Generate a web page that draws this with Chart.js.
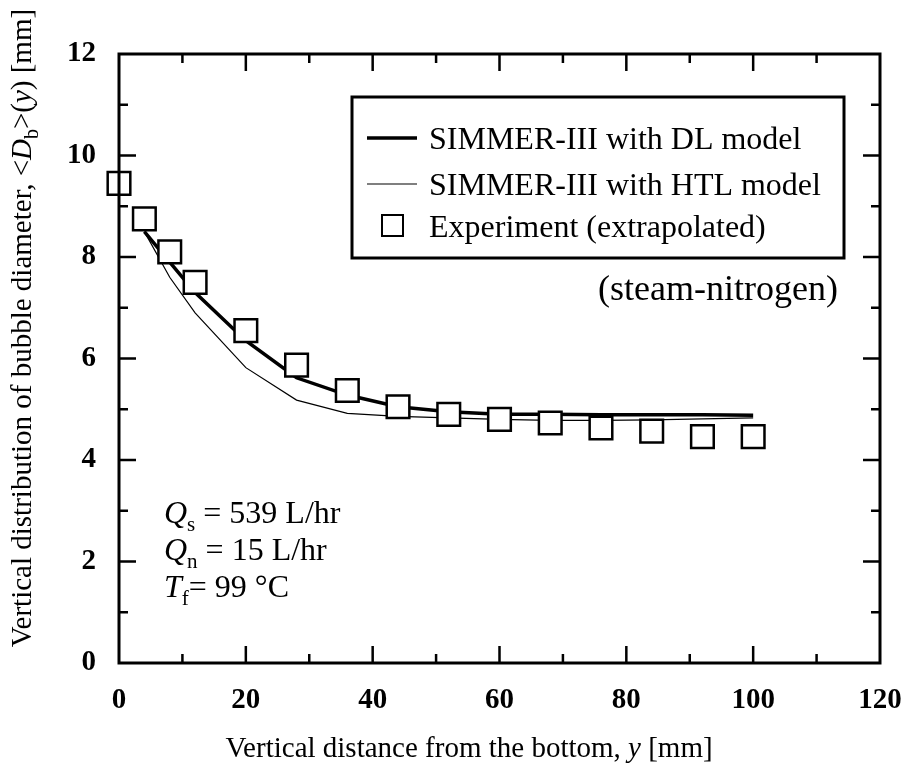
<!DOCTYPE html>
<html lang="en">
<head>
  <meta charset="UTF-8">
  <title>Vertical distribution of bubble diameter</title>
  <script src="https://cdn.jsdelivr.net/npm/chart.js"></script>
  <style>
    html, body { margin: 0; padding: 0; background: #fff; }
    #wrap { width: 910px; height: 772px; }
  </style>
</head>
<body>
  <div id="wrap"><canvas id="myChart" width="910" height="772"></canvas></div>

  <script>
    // experiment (extrapolated), squares
    const expY = [0, 4, 8, 12, 20, 28, 36, 44, 52, 60, 68, 76, 84, 92, 100];
    const expD = [9.45, 8.75, 8.1, 7.5, 6.55, 5.87, 5.37, 5.05, 4.9, 4.8, 4.73, 4.63, 4.57, 4.46, 4.46];

    // SIMMER-III results
    const simY = [4, 8, 12, 20, 28, 36, 44, 52, 60, 68, 76, 84, 92, 100];
    const dlD = [8.5, 7.9, 7.3, 6.35, 5.62, 5.28, 5.05, 4.95, 4.9, 4.9, 4.89, 4.89, 4.89, 4.88];
    const htlD = [8.5, 7.6, 6.9, 5.82, 5.18, 4.92, 4.86, 4.83, 4.8, 4.78, 4.78, 4.79, 4.81, 4.83];

    const xTicks = [0, 20, 40, 60, 80, 100, 120];
    const yTicks = [0, 2, 4, 6, 8, 10, 12];

    const legendLabels = ['SIMMER-III with DL model', 'SIMMER-III with HTL model', 'Experiment (extrapolated)'];

    const SERIF = '"Liberation Serif", "Times New Roman", serif';

    const pts = (xs, ys) => xs.map((x, i) => ({ x: x, y: ys[i] }));

    // draw a row of text pieces (font / vertical shift per piece)
    function richText(ctx, parts, x, y, align) {
      let total = 0;
      parts.forEach(p => { ctx.font = p.font; total += ctx.measureText(p.t).width; });
      let cx = align === 'center' ? x - total / 2 : x;
      parts.forEach(p => {
        ctx.font = p.font;
        ctx.fillText(p.t, cx, y + (p.dy || 0));
        cx += ctx.measureText(p.t).width;
      });
    }

    const decor = {
      id: 'decor',
      afterDatasetsDraw(chart) {
        const ctx = chart.ctx;
        const a = chart.chartArea;
        const sx = chart.scales.x, sy = chart.scales.y;
        ctx.save();
        ctx.strokeStyle = '#000';
        ctx.lineWidth = 3;
        ctx.strokeRect(a.left, a.top, a.right - a.left, a.bottom - a.top);

        // inward ticks on all four sides
        ctx.lineWidth = 2.5;
        ctx.beginPath();
        for (let v = 10; v < 120; v += 10) {
          const len = v % 20 === 0 ? 17 : 9;
          const px = sx.getPixelForValue(v);
          ctx.moveTo(px, a.bottom); ctx.lineTo(px, a.bottom - len);
          ctx.moveTo(px, a.top); ctx.lineTo(px, a.top + len);
        }
        for (let v = 1; v < 12; v++) {
          const len = v % 2 === 0 ? 17 : 9;
          const py = sy.getPixelForValue(v);
          ctx.moveTo(a.left, py); ctx.lineTo(a.left + len, py);
          ctx.moveTo(a.right, py); ctx.lineTo(a.right - len, py);
        }
        ctx.stroke();
        ctx.restore();
      },
      afterDraw(chart) {
        const ctx = chart.ctx;
        ctx.save();
        ctx.fillStyle = '#000';
        ctx.textBaseline = 'alphabetic';

        // legend box
        ctx.lineWidth = 3;
        ctx.strokeStyle = '#000';
        ctx.strokeRect(352, 97, 492, 161);
        ctx.beginPath();
        ctx.lineWidth = 3.5;
        ctx.moveTo(367, 138); ctx.lineTo(417, 138);
        ctx.stroke();
        ctx.beginPath();
        ctx.lineWidth = 1.2;
        ctx.moveTo(367, 184); ctx.lineTo(417, 184);
        ctx.stroke();
        ctx.lineWidth = 2;
        ctx.fillStyle = '#fff';
        ctx.fillRect(382, 215, 21, 21);
        ctx.strokeRect(382, 215, 21, 21);
        ctx.fillStyle = '#000';
        ctx.font = '32px ' + SERIF;
        ctx.textAlign = 'left';
        ctx.fillText(legendLabels[0], 429, 149);
        ctx.fillText(legendLabels[1], 429, 195);
        ctx.fillText(legendLabels[2], 429, 237);

        ctx.font = '36px ' + SERIF;
        ctx.textAlign = 'right';
        ctx.fillText('(steam-nitrogen)', 838, 300);

        // conditions
        ctx.textAlign = 'left';
        const it = 'italic 32px ' + SERIF, nm = '32px ' + SERIF, sub = '21px ' + SERIF;
        richText(ctx, [{ t: 'Q', font: it }, { t: 's', font: sub, dy: 8 }, { t: ' = 539 L/hr', font: nm }], 164, 523);
        richText(ctx, [{ t: 'Q', font: it }, { t: 'n', font: sub, dy: 8 }, { t: ' = 15 L/hr', font: nm }], 164, 560);
        richText(ctx, [{ t: 'T', font: it }, { t: 'f', font: sub, dy: 8 }, { t: '= 99 °C', font: nm }], 164, 597);

        // axis titles
        const tf = '29px ' + SERIF, ti = 'italic 29px ' + SERIF;
        richText(ctx, [{ t: 'Vertical distance from the bottom, ', font: tf }, { t: 'y', font: ti }, { t: ' [mm]', font: tf }], 469, 757, 'center');

        ctx.translate(31, 328);
        ctx.rotate(-Math.PI / 2);
        richText(ctx, [
          { t: 'Vertical distribution of bubble diameter, <', font: tf },
          { t: 'D', font: ti },
          { t: 'b', font: '20px ' + SERIF, dy: 7 },
          { t: '>(', font: tf },
          { t: 'y', font: ti },
          { t: ') [mm]', font: tf }
        ], 0, 0, 'center');
        ctx.restore();
      }
    };

    const data = {
      datasets: [
        {
          label: legendLabels[2],
          data: pts(expY, expD),
          showLine: false,
          clip: false,
          pointStyle: 'rect',
          pointRadius: 16,
          pointBackgroundColor: '#fff',
          pointBorderColor: '#000',
          pointBorderWidth: 2.5
        },
        {
          label: legendLabels[0],
          data: pts(simY, dlD),
          showLine: true,
          borderColor: '#000',
          borderWidth: 3.5,
          pointRadius: 0,
          tension: 0
        },
        {
          label: legendLabels[1],
          data: pts(simY, htlD),
          showLine: true,
          borderColor: '#000',
          borderWidth: 1.2,
          pointRadius: 0,
          tension: 0
        }
      ]
    };

    const options = {
      responsive: false,
      animation: false,
      layout: { padding: { top: 54, right: 30, left: 0, bottom: 0 } },
      scales: {
        x: {
          type: 'linear',
          min: 0,
          max: 120,
          afterBuildTicks: s => { s.ticks = xTicks.map(v => ({ value: v })); },
          afterFit: s => { s.height = 109; s.paddingLeft = 0; s.paddingRight = 0; },
          grid: { display: false, drawTicks: false },
          border: { display: false },
          ticks: { padding: 20, color: '#000', font: { family: SERIF, size: 29, weight: 'bold' }, maxRotation: 0 }
        },
        y: {
          min: 0,
          max: 12,
          afterBuildTicks: s => { s.ticks = yTicks.map(v => ({ value: v })); },
          afterFit: s => { s.width = 119; s.paddingTop = 0; s.paddingBottom = 0; },
          grid: { display: false, drawTicks: false },
          border: { display: false },
          ticks: { padding: 23, color: '#000', font: { family: SERIF, size: 29, weight: 'bold' } }
        }
      },
      plugins: {
        legend: { display: false },
        tooltip: { enabled: false }
      }
    };

    const ctx = document.getElementById('myChart').getContext('2d');
    const myChart = new Chart(ctx, {
      type: 'scatter',
      data: data,
      options: options,
      plugins: [decor]
    });
  </script>
</body>
</html>
